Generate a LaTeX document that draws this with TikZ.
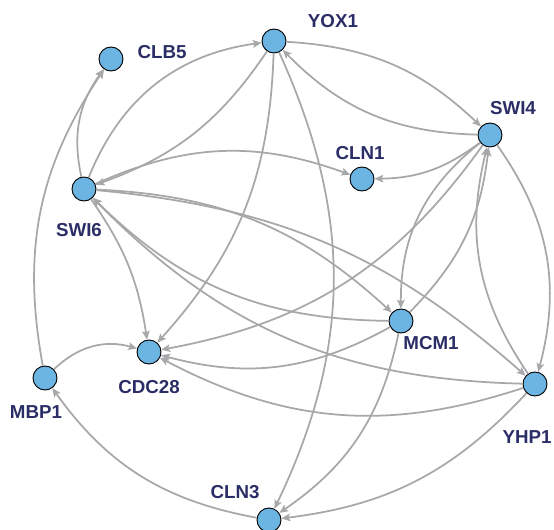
\documentclass[tikz,border=0pt]{standalone}
\usepackage{fontspec}
\setsansfont{Liberation Sans}
\usetikzlibrary{arrows.meta}
\definecolor{genefill}{RGB}{108,180,226}
\definecolor{genetext}{RGB}{43,46,102}
\definecolor{linkgray}{RGB}{168,168,170}
\tikzset{
->, % every link is directed
>={Stealth[length=7.5pt, width=6.5pt, inset=1.5pt]}, % small pointed heads
gene/.style={circle, draw=black, line width=0.8pt, fill=genefill, minimum size=0.72cm, inner sep=0pt}, % the gene dots
genelabel/.style={font=\sffamily\bfseries\fontsize{16}{18}\selectfont, text=genetext, inner sep=0pt}, % gene names
every edge/.append style={draw=linkgray, line width=1.5pt}, % grey links
}

\begin{document}
\begin{tikzpicture}[x=0.03cm, y=0.03cm]
    \useasboundingbox (0,0) rectangle (554,530);
    % genes
    \node[gene] (yox1) at (274,489) {};
    \node[gene] (clb5) at (111,471) {};
    \node[gene] (swi4) at (490,395) {};
    \node[gene] (cln1) at (362,351) {};
    \node[gene] (swi6) at (84,341) {};
    \node[gene] (mcm1) at (401,209) {};
    \node[gene] (cdc28) at (149,178) {};
    \node[gene] (mbp1) at (45,152) {};
    \node[gene] (yhp1) at (535,146) {};
    \node[gene] (cln3) at (269,10) {};
    % names
    \node[genelabel] (yox1-t) at (333,509) {YOX1};
    \node[genelabel] (clb5-t) at (162,478) {CLB5};
    \node[genelabel] (swi4-t) at (513,422) {SWI4};
    \node[genelabel] (cln1-t) at (360,377) {CLN1};
    \node[genelabel] (swi6-t) at (79,300) {SWI6};
    \node[genelabel] (mcm1-t) at (431,187) {MCM1};
    \node[genelabel] (cdc28-t) at (149,143) {CDC28};
    \node[genelabel] (mbp1-t) at (36,118) {MBP1};
    \node[genelabel] (yhp1-t) at (527,93) {YHP1};
    \node[genelabel] (cln3-t) at (235,38) {CLN3};
    % links
    \draw (swi6) edge[bend left=24] (clb5)
    (mbp1) edge[bend left=22] (clb5)
    (swi6) edge[bend left=30] (yox1)
    (yox1) edge[bend left=18] (swi6)
    (swi6) edge[bend left=22] (cln1)
    (swi4) edge[bend left=18] (cln1)
    (yox1) edge[bend left=20] (swi4)
    (swi4) edge[bend left=22] (yox1)
    (swi6) edge[bend left=13] (cdc28)
    (yox1) edge[bend left=20] (cdc28)
    (swi4) edge[bend left=22] (cdc28)
    (mcm1) edge[bend left=22] (cdc28)
    (yhp1) edge[bend left=23] (cdc28)
    (mbp1) edge[bend left=30] (cdc28)
    (cln3) edge[bend left=22] (mbp1)
    (yox1) edge[bend left=25] (cln3)
    (mcm1) edge[bend left=22] (cln3)
    (yhp1) edge[bend left=20] (cln3)
    (swi6) edge[bend left=20] (mcm1)
    (mcm1) edge[bend left=22] (swi6)
    (swi6) edge[bend left=18] (yhp1)
    (yhp1) edge[bend left=22] (swi6)
    (swi4) edge[bend right=26] (mcm1)
    (mcm1) edge[bend right=19] (swi4)
    (swi4) edge[bend left=25] (yhp1)
    (yhp1) edge[bend left=24] (swi4);
\end{tikzpicture}
\end{document}
